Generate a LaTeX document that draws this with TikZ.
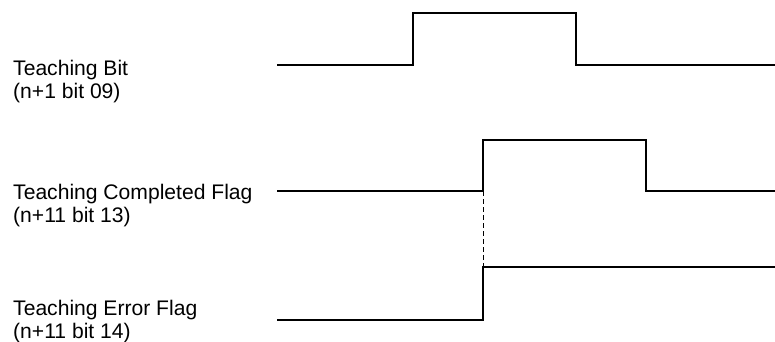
\documentclass[tikz,border=0pt]{standalone}
\usepackage{fontspec}
\setmainfont{Liberation Sans}
\begin{document}
\begin{tikzpicture}[x=1pt,y=-1pt,
  sig/.style={line width=2pt, line join=miter},
  lab/.style={anchor=base west, align=left, inner sep=0pt,
    font=\fontsize{21.1}{23}\selectfont}]
\useasboundingbox (0,0) rectangle (775,341);
% labels (anchor = baseline of the last line)
\node[lab] (l1) at (13,98.7) {Teaching Bit\\(n+1 bit 09)};
\node[lab] (l2) at (13,222.3) {Teaching Completed Flag\\(n+11 bit 13)};
\node[lab] (l3) at (13,338) {Teaching Error Flag\\(n+11 bit 14)};
% key points
\coordinate (a0) at (277,64.5);
\coordinate (a1) at (413,64.5);
\coordinate (a2) at (413,12.5);
\coordinate (a3) at (576,12.5);
\coordinate (a4) at (576,64.5);
\coordinate (a5) at (775,64.5);
\coordinate (b0) at (277,191);
\coordinate (b1) at (483,191);
\coordinate (b2) at (483,139.5);
\coordinate (b3) at (646,139.5);
\coordinate (b4) at (646,191);
\coordinate (b5) at (775,191);
\coordinate (c0) at (277,320);
\coordinate (c1) at (483,320);
\coordinate (c2) at (483,266.5);
\coordinate (c3) at (775,266.5);
% signals
\draw[sig] (a0) -- (a1) -- (a2) -- (a3) -- (a4) -- (a5);
\draw[sig] (b0) -- (b1) -- (b2) -- (b3) -- (b4) -- (b5);
\draw[sig] (c0) -- (c1) -- (c2) -- (c3);
\draw[line width=1pt, dash pattern=on 5pt off 3pt] (b1) -- (c2);
\end{tikzpicture}
\end{document}
